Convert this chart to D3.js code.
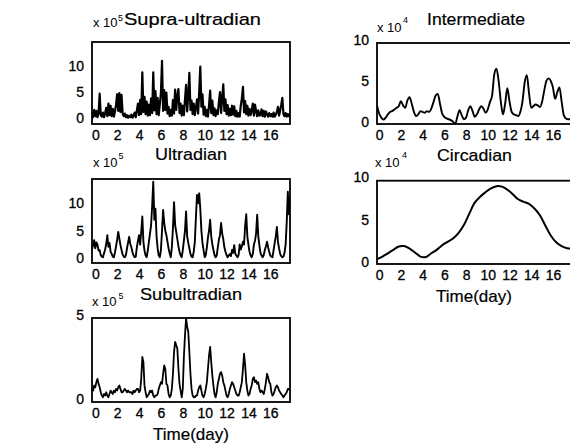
<!DOCTYPE html>
<html>
<head>
<meta charset="utf-8">
<script src="https://cdn.jsdelivr.net/npm/d3@7"></script>
<style>
body { margin: 0; background: #fff; }
svg { display: block; font-family: Arial, "Liberation Sans", Helvetica, sans-serif; }
</style>
</head>
<body>
<svg id="fig" width="570" height="444"></svg>
<script>
// each series is sampled every dt days from t0 (x 10^5 or x 10^4 units)
var supraUltradian = [
  1.2, 0.2, 1.6, 0.4, 1.4, 0.2, 1.0, 4.7, 0.6, 0.3,
  1.1, 0.2, 0.9, 2.0, 0.4, 2.8, 0.6, 2.4, 0.4, 1.8,
  0.3, 1.3, 2.6, 4.6, 1.4, 4.8, 1.2, 4.5, 0.9, 0.4,
  0.9, 0.2, 0.6, 0.1, 0.5, 0.2, 0.7, 0.1, 0.5, 1.1,
  0.2, 1.5, 2.8, 0.6, 3.5, 0.8, 8.8, 1.2, 4.1, 0.8,
  3.2, 0.5, 2.6, 0.6, 3.8, 1.0, 8.8, 1.5, 5.2, 0.8,
  3.9, 0.6, 2.7, 4.8, 11.0, 1.4, 5.4, 1.6, 4.9, 0.9,
  2.2, 0.4, 1.6, 0.5, 3.5, 0.9, 5.5, 1.6, 4.2, 5.6,
  1.0, 2.8, 0.5, 2.4, 0.6, 3.6, 6.4, 1.3, 4.5, 8.7,
  1.6, 3.4, 0.8, 2.8, 0.6, 2.0, 3.6, 0.9, 5.0, 9.9,
  2.2, 4.6, 0.7, 2.2, 0.4, 1.6, 0.3, 2.5, 5.3, 1.0,
  3.4, 0.6, 1.9, 0.4, 1.5, 0.8, 3.1, 5.0, 1.0, 3.8,
  6.5, 1.4, 3.6, 0.8, 2.5, 0.5, 1.8, 0.6, 2.4, 0.7,
  2.3, 0.4, 1.4, 0.3, 1.0, 0.3, 2.4, 3.8, 6.0, 1.1,
  3.3, 0.8, 2.4, 0.5, 1.8, 0.6, 1.5, 2.8, 0.5, 2.6,
  1.4, 0.4, 1.5, 0.5, 0.6, 1.7, 0.4, 1.4, 0.3, 1.3,
  0.7, 0.3, 1.0, 0.4, 0.8, 0.3, 1.1, 0.3, 0.7, 1.2,
  2.2, 0.5, 1.5, 2.6, 3.9, 0.8, 0.4, 1.0, 0.3, 0.8,
  0.4, 0.9
];

var ultradian = [
  1.6, 2.4, 3.3, 1.8, 2.9, 2.5, 1.4, 1.5, 0.6, 0.3,
  0.2, 0.9, 1.6, 2.6, 4.2, 2.1, 2.8, 1.2, 0.8, 0.3,
  0.2, 1.1, 2.2, 3.4, 4.8, 3.6, 2.4, 1.5, 0.7, 0.3,
  0.2, 0.6, 1.8, 2.9, 3.9, 2.6, 2.0, 1.1, 0.5, 0.2,
  0.3, 2.0, 3.2, 4.2, 2.5, 4.8, 7.6, 3.0, 1.4, 0.5,
  0.2, 1.4, 3.0, 4.5, 6.0, 9.5, 13.9, 7.0, 9.0, 4.0,
  1.8, 0.5, 0.2, 1.5, 5.0, 8.8, 6.5, 5.0, 4.2, 3.0,
  1.8, 0.9, 0.2, 2.0, 5.5, 10.2, 6.0, 4.8, 3.5, 2.2,
  1.2, 0.5, 0.2, 1.5, 3.2, 5.0, 8.5, 4.0, 2.8, 1.8,
  0.8, 0.3, 0.2, 1.2, 3.0, 7.5, 11.5, 10.0, 11.8, 9.0,
  5.0, 2.8, 1.5, 0.2, 0.6, 2.0, 3.8, 5.0, 7.0, 4.0,
  2.5, 1.5, 0.6, 0.2, 0.5, 2.0, 3.4, 4.2, 6.4, 4.5,
  3.5, 2.0, 1.2, 0.6, 0.2, 0.5, 0.8, 0.4, 1.5, 1.0,
  2.4, 0.8, 0.5, 0.2, 0.6, 2.5, 1.6, 2.2, 3.0, 2.5,
  6.0, 8.0, 4.0, 2.5, 1.2, 0.5, 0.2, 0.8, 2.5, 3.2,
  4.5, 7.9, 4.0, 2.4, 1.0, 0.5, 0.2, 0.6, 1.5, 2.2,
  3.0, 2.0, 1.2, 0.5, 0.3, 0.2, 1.5, 2.8, 4.0, 5.7,
  3.0, 1.8, 0.8, 0.4, 0.2, 0.3, 1.0, 2.5, 6.5, 12.1,
  8.0, 11.0
];

var subultradian = [
  0.6, 0.5, 0.8, 0.7, 1.0, 1.2, 0.9, 0.7, 0.4, 0.2,
  0.1, 0.3, 0.2, 0.4, 0.2, 0.1, 0.3, 0.5, 0.4, 0.3,
  0.5, 0.4, 0.6, 0.5, 0.7, 0.8, 0.6, 0.4, 0.4, 0.5,
  0.6, 0.5, 0.4, 0.5, 0.4, 0.4, 0.4, 0.3, 0.5, 0.4,
  0.5, 0.6, 0.6, 0.4, 0.5, 1.2, 2.5, 2.2, 0.8, 0.4,
  0.1, 0.2, 0.3, 0.5, 0.4, 0.5, 0.2, 0.1, 0.2, 0.2,
  0.3, 0.6, 0.8, 1.0, 0.9, 1.5, 2.0, 1.8, 0.9, 0.8,
  0.3, 0.1, 0.2, 0.6, 1.5, 2.8, 3.4, 3.2, 3.0, 1.8,
  0.9, 0.5, 0.1, 0.6, 2.5, 3.8, 4.8, 4.3, 4.0, 2.8,
  1.5, 0.6, 0.2, 0.1, 0.1, 0.2, 0.2, 0.5, 0.7, 0.8,
  0.5, 0.2, 0.1, 0.3, 0.6, 1.0, 1.8, 2.6, 3.1, 2.2,
  1.4, 0.8, 0.3, 0.1, 0.4, 0.9, 1.2, 1.5, 1.6, 1.4,
  1.0, 0.8, 0.5, 0.2, 0.1, 0.3, 0.6, 0.8, 1.0, 0.9,
  0.7, 0.5, 0.3, 0.2, 0.2, 0.4, 0.7, 1.0, 1.8, 2.7,
  2.0, 1.0, 0.5, 0.2, 0.3, 0.6, 0.8, 1.2, 1.3, 1.0,
  1.1, 0.9, 1.0, 0.6, 0.4, 0.5, 0.4, 0.3, 0.6, 1.0,
  1.5, 1.3, 1.0, 0.9, 0.4, 0.2, 0.3, 0.5, 0.7, 0.8,
  0.7, 0.5, 0.4, 0.3, 0.2, 0.1, 0.2, 0.3, 0.4, 0.6,
  0.6, 0.5
];

var intermediate = [
  2.0, 1.0, 0.5, 0.25, 0.5, 0.9, 1.2, 1.3, 1.5, 1.7,
  1.9, 2.5, 2.0, 1.7, 2.6, 3.0, 2.2, 1.2, 0.7, 0.9,
  1.3, 1.2, 1.1, 1.3, 1.2, 1.6, 2.4, 3.2, 3.4, 2.2,
  1.0, 0.6, 0.4, 0.3, 0.2, 0.0, -0.3, 0.6, 1.4, 0.8,
  0.3, 0.5, 1.4, 1.9, 1.3, 0.6, 0.9, 1.5, 1.9, 1.6,
  1.1, 1.5, 2.4, 3.2, 5.8, 6.5, 5.0, 2.5, 0.9, 2.2,
  4.1, 2.5, 1.2, 0.9, 0.8, 0.7, 1.2, 2.5, 4.8, 5.7,
  3.5, 1.7, 1.9, 2.1, 2.0, 1.8, 2.4, 3.8, 5.0, 5.3,
  5.0, 4.2, 2.8, 3.6, 4.2, 2.5, 0.8, 0.4, 0.3, 0.3,
  0.3
];

var circadian = [
  0.3, 0.6, 1.0, 1.4, 1.8, 1.85, 1.55, 1.1, 0.6, 0.55,
  1.0, 1.4, 1.95, 2.35, 2.75, 3.4, 4.35, 5.7, 7.0, 7.7,
  8.25, 8.7, 8.95, 8.9, 8.55, 8.0, 7.4, 7.1, 6.85, 6.3,
  5.5, 4.3, 3.1, 2.3, 1.85, 1.6, 1.55
];

var dayTicks = [0, 2, 4, 6, 8, 10, 12, 14, 16];

var panels = [
  { title: "Supra-ultradian", exp: "5", values: supraUltradian, t0: -0.3, dt: 0.1,
    xDom: [-0.3, 17.8], yDom: [-1.1, 14.6], yTicks: [0, 5, 10],
    box: [92, 42, 290, 124], width: 2.2, curve: d3.curveLinear,
    xTen: [93, 27], xSup: [118, 20.5], xTitle: [124, 25, 137] },
  { title: "Ultradian", exp: "5", values: ultradian, t0: -0.3, dt: 0.1,
    xDom: [-0.3, 17.8], yDom: [-0.85, 14.4], yTicks: [0, 5, 10],
    box: [92, 179, 290, 263], width: 1.9, curve: d3.curveLinear,
    xTen: [93, 167], xSup: [118.5, 158.5], xTitle: [155, 160, 72] },
  { title: "Subultradian", exp: "5", values: subultradian, t0: -0.3, dt: 0.1,
    xDom: [-0.3, 17.8], yDom: [-0.18, 4.82], yTicks: [0, 5],
    box: [92, 318, 290, 402], width: 1.8, curve: d3.curveLinear,
    xTen: [92, 306], xSup: [118.5, 299], xTitle: [140, 300, 102], label: [191, 440] },
  { title: "Intermediate", exp: "4", values: intermediate, t0: -0.2, dt: 0.2,
    xDom: [-0.2, 17.85], yDom: [-0.28, 9.63], yTicks: [0, 5, 10],
    box: [377, 43, 573, 124], width: 1.9, curve: d3.curveMonotoneX,
    xTen: [377, 32], xSup: [403, 23], xTitle: [427, 25, 98] },
  { title: "Circadian", exp: "4", values: circadian, t0: -0.2, dt: 0.5,
    xDom: [-0.2, 17.85], yDom: [-0.27, 9.6], yTicks: [0, 5, 10],
    box: [377, 180.7, 573, 264], width: 2, curve: d3.curveCatmullRom,
    xTen: [375, 167], xSup: [402, 158], xTitle: [437, 161, 75], label: [474, 302] }
];

var svg = d3.select("#fig");
svg.append("rect").attr("width", 570).attr("height", 444).attr("fill", "#fff");

function styleAxis(g) {
  g.select(".domain").remove();
  g.attr("font-family", null).attr("font-size", null);
  g.selectAll("text")
    .attr("font-size", 14)
    .attr("fill", "#000")
    .attr("stroke", "#000")
    .attr("stroke-width", 0.3);
}

panels.forEach(function(p, k) {
  var b = p.box;
  var x = d3.scaleLinear().domain(p.xDom).range([b[0], b[2]]);
  var y = d3.scaleLinear().domain(p.yDom).range([b[3], b[1]]);

  svg.append("clipPath").attr("id", "clip" + k)
    .append("rect").attr("x", b[0]).attr("y", b[1])
    .attr("width", b[2] - b[0]).attr("height", b[3] - b[1]);

  var line = d3.line()
    .x(function(d, i) { return x(p.t0 + i * p.dt); })
    .y(function(d) { return y(d); })
    .curve(p.curve);

  svg.append("path")
    .datum(p.values)
    .attr("clip-path", "url(#clip" + k + ")")
    .attr("fill", "none")
    .attr("stroke", "#000")
    .attr("stroke-width", p.width)
    .attr("stroke-linejoin", "round")
    .attr("d", line);

  svg.append("rect")
    .attr("x", b[0]).attr("y", b[1])
    .attr("width", b[2] - b[0]).attr("height", b[3] - b[1])
    .attr("fill", "none").attr("stroke", "#000").attr("stroke-width", 1.8);

  svg.append("g")
    .attr("transform", "translate(" + b[0] + ",0)")
    .call(d3.axisLeft(y).tickValues(p.yTicks).tickFormat(d3.format("d")).tickSize(0).tickPadding(8))
    .call(styleAxis);

  svg.append("g")
    .attr("transform", "translate(0," + b[3] + ")")
    .call(d3.axisBottom(x).tickValues(dayTicks).tickFormat(d3.format("d")).tickSize(0).tickPadding(6.5))
    .call(styleAxis);

  svg.append("text")
    .attr("x", p.xTen[0]).attr("y", p.xTen[1])
    .attr("font-size", 13).attr("fill", "#000")
    .text("x 10");
  svg.append("text")
    .attr("x", p.xSup[0]).attr("y", p.xSup[1])
    .attr("font-size", 9).attr("fill", "#000")
    .text(p.exp);
  svg.append("text")
    .attr("x", p.xTitle[0]).attr("y", p.xTitle[1])
    .attr("font-size", 17).attr("fill", "#000")
    .attr("stroke", "#000").attr("stroke-width", 0.2)
    .attr("textLength", p.xTitle[2]).attr("lengthAdjust", "spacingAndGlyphs")
    .text(p.title);

  if (p.label) {
    svg.append("text")
      .attr("x", p.label[0]).attr("y", p.label[1])
      .attr("text-anchor", "middle")
      .attr("font-size", 17).attr("fill", "#000")
      .attr("stroke", "#000").attr("stroke-width", 0.2)
      .text("Time(day)");
  }
});
</script>
</body>
</html>
